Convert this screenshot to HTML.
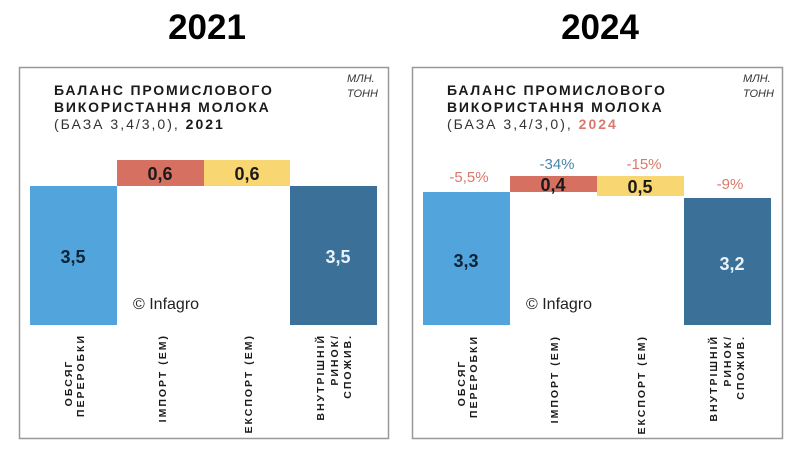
<!DOCTYPE html>
<html><head><meta charset="utf-8"><style>
html,body{margin:0;padding:0;background:#fff;}
svg{display:block;font-family:"Liberation Sans",sans-serif;}
.t{font-size:14px;font-weight:bold;letter-spacing:1.8px;fill:#1a1a1a;}
.s{font-size:14px;letter-spacing:2px;fill:#333;}
.u{font-size:11px;font-style:italic;fill:#333;}
.c{font-size:10.5px;font-weight:bold;letter-spacing:2px;fill:#1a1a1a;}
.v{font-size:18px;font-weight:bold;}
.p{font-size:15px;}
</style></head><body>
<svg width="800" height="449" viewBox="0 0 800 449">
<rect width="800" height="449" fill="#fff"/>
<text x="207" y="39" text-anchor="middle" font-size="35" font-weight="bold" fill="#000">2021</text>
<text x="600" y="39" text-anchor="middle" font-size="35" font-weight="bold" fill="#000">2024</text>

<!-- Left panel -->
<rect x="19.5" y="67.5" width="369" height="371" fill="none" stroke="#999" stroke-width="1.5"/>
<text class="t" x="54" y="95">БАЛАНС ПРОМИСЛОВОГО</text>
<text class="t" x="54" y="112">ВИКОРИСТАННЯ МОЛОКА</text>
<text class="s" x="54" y="129">(БАЗА 3,4/3,0), <tspan font-weight="bold" fill="#1a1a1a">2021</tspan></text>
<text class="u" x="347" y="82">МЛН.</text>
<text class="u" x="347" y="97">ТОНН</text>
<rect x="30" y="186" width="87" height="139" fill="#52a4dc"/>
<rect x="117" y="160" width="87" height="26" fill="#d67060"/>
<rect x="204" y="160" width="86" height="26" fill="#f8d671"/>
<rect x="290" y="186" width="87" height="139" fill="#3b7099"/>
<text class="v" x="73" y="263" text-anchor="middle" fill="#0e2235">3,5</text>
<text class="v" x="160" y="180" text-anchor="middle" fill="#1a1a1a">0,6</text>
<text class="v" x="247" y="180" text-anchor="middle" fill="#1a1a1a">0,6</text>
<text class="v" x="338" y="263" text-anchor="middle" fill="#e8f2fa">3,5</text>
<text x="133" y="309" font-size="16" fill="#222">© Infagro</text>
<text class="c" transform="translate(72,383) rotate(-90)" text-anchor="middle">ОБСЯГ</text>
<text class="c" transform="translate(84,334) rotate(-90)" text-anchor="end">ПЕРЕРОБКИ</text>
<text class="c" transform="translate(166,334) rotate(-90)" text-anchor="end">ІМПОРТ (ЕМ)</text>
<text class="c" transform="translate(252,334) rotate(-90)" text-anchor="end">ЕКСПОРТ (ЕМ)</text>
<text class="c" transform="translate(324,334) rotate(-90)" text-anchor="end">ВНУТРІШНІЙ</text>
<text class="c" transform="translate(338,334) rotate(-90)" text-anchor="end">РИНОК/</text>
<text class="c" transform="translate(351,334) rotate(-90)" text-anchor="end">СПОЖИВ.</text>

<!-- Right panel -->
<rect x="412.5" y="67.5" width="370" height="371" fill="none" stroke="#999" stroke-width="1.5"/>
<text class="t" x="447" y="95">БАЛАНС ПРОМИСЛОВОГО</text>
<text class="t" x="447" y="112">ВИКОРИСТАННЯ МОЛОКА</text>
<text class="s" x="447" y="129">(БАЗА 3,4/3,0), <tspan font-weight="bold" fill="#d9796b">2024</tspan></text>
<text class="u" x="743" y="82">МЛН.</text>
<text class="u" x="743" y="97">ТОНН</text>
<rect x="423" y="192" width="87" height="133" fill="#52a4dc"/>
<rect x="510" y="176" width="87" height="16" fill="#d67060"/>
<rect x="597" y="176" width="87" height="20" fill="#f8d671"/>
<rect x="684" y="198" width="87" height="127" fill="#3b7099"/>
<text class="p" x="469" y="182" text-anchor="middle" fill="#d9796b">-5,5%</text>
<text class="p" x="557" y="169" text-anchor="middle" fill="#4a86a8">-34%</text>
<text class="p" x="644" y="169" text-anchor="middle" fill="#d9796b">-15%</text>
<text class="p" x="730" y="189" text-anchor="middle" fill="#d9796b">-9%</text>
<text class="v" x="466" y="267" text-anchor="middle" fill="#0e2235">3,3</text>
<text class="v" x="553" y="191" text-anchor="middle" fill="#1a1a1a">0,4</text>
<text class="v" x="640" y="193" text-anchor="middle" fill="#1a1a1a">0,5</text>
<text class="v" x="732" y="270" text-anchor="middle" fill="#e8f2fa">3,2</text>
<text x="526" y="309" font-size="16" fill="#222">© Infagro</text>
<text class="c" transform="translate(465,383) rotate(-90)" text-anchor="middle">ОБСЯГ</text>
<text class="c" transform="translate(477,335) rotate(-90)" text-anchor="end">ПЕРЕРОБКИ</text>
<text class="c" transform="translate(558,335) rotate(-90)" text-anchor="end">ІМПОРТ (ЕМ)</text>
<text class="c" transform="translate(645,335) rotate(-90)" text-anchor="end">ЕКСПОРТ (ЕМ)</text>
<text class="c" transform="translate(717,335) rotate(-90)" text-anchor="end">ВНУТРІШНІЙ</text>
<text class="c" transform="translate(731,335) rotate(-90)" text-anchor="end">РИНОК/</text>
<text class="c" transform="translate(744,335) rotate(-90)" text-anchor="end">СПОЖИВ.</text>
</svg>
</body></html>
